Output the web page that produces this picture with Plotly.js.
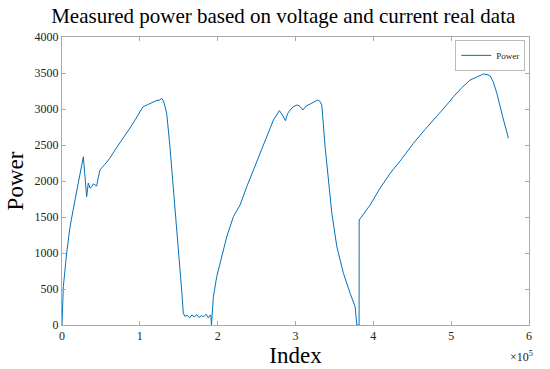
<!DOCTYPE html>
<html>
<head>
<meta charset="utf-8">
<script src="https://cdn.plot.ly/plotly-3.0.1.min.js"></script>
<style>html,body{margin:0;padding:0;background:#fff;}#chart{width:550px;height:369px;}</style>
</head>
<body>
<div id="chart"></div>
<script>
// Index values
const indexValues = [
  0, 1700, 6000, 10300, 16700, 23100, 27400, 31700, 33800, 36000, 38200, 40300, 42400, 44500,
  46500, 48800, 55000, 61700, 68000, 74500, 81000, 87400, 94000, 100300, 104100, 110000, 117000,
  122000, 126000, 128100, 130500, 134500, 138500, 142700, 147000, 151700, 154000, 155900,
  158000, 161000, 164000, 167000, 170000, 173000, 176000, 179000, 182000, 185000, 188000,
  190500, 191300, 192000, 194500, 198800, 205300, 211700, 220200, 228800, 237400, 245900,
  254500, 263100, 271600, 279300, 283000, 287000, 290000, 293100, 297000, 301700, 305500,
  309400, 313500, 318800, 324000, 328700, 331000, 333800, 338000, 342300, 346700, 353100,
  361600, 370200, 376600, 378800, 380500, 381700, 381800, 395900, 408000, 421600, 436000,
  451500, 466000, 481600, 493000, 503000, 514000, 524400, 533000, 541500, 546000, 550100,
  554000, 558700, 566000, 573600
];
// Power values
const powerValues = [
  0, 532, 1000, 1365, 1736, 2111, 2337, 1782, 1972, 1900, 1921, 1960, 1944, 1930,
  2040, 2153, 2230, 2319, 2430, 2527, 2630, 2736, 2850, 2963, 3032, 3060, 3102,
  3120, 3125, 3150, 3110, 2940, 2500, 1972, 1400, 810, 450, 160,
  120, 135, 100, 140, 110, 145, 105, 130, 115, 150, 100,
  140, 120, 0, 393, 671, 949, 1226, 1504, 1667, 1921, 2153,
  2384, 2615, 2847, 2977, 2920, 2838, 2940, 2986, 3030, 3056, 3040,
  2986, 3040, 3069, 3100, 3125, 3110, 3056, 2477, 2014, 1551, 1088,
  718, 440, 254, 0, 0, 0, 1458, 1667, 1890, 2107, 2300,
  2523, 2710, 2893, 3040, 3171, 3300, 3403, 3450, 3486, 3480, 3458,
  3380, 3218, 2900, 2593
];
const seriesName = 'Power';
const xTickVals = [0, 100000, 200000, 300000, 400000, 500000, 600000];
const xTickText = ['0', '1', '2', '3', '4', '5', '6'];
const yTickVals = [0, 500, 1000, 1500, 2000, 2500, 3000, 3500, 4000];

const serif = 'Liberation Serif';

const trace = {
  x: indexValues,
  y: powerValues,
  type: 'scatter',
  mode: 'lines',
  name: seriesName,
  line: {color: '#0072BD', width: 1}
};

const layout = {
  width: 550,
  height: 369,
  margin: {l: 62, r: 21, t: 37, b: 44},
  paper_bgcolor: '#ffffff',
  plot_bgcolor: '#ffffff',
  font: {family: serif, color: '#000'},
  title: {
    text: 'Measured power based on voltage and current real data',
    font: {family: serif, size: 21, color: '#000'},
    x: 0.515, xanchor: 'center', y: 0.978, yanchor: 'top'
  },
  xaxis: {
    range: [0, 600000],
    tickvals: xTickVals,
    ticktext: xTickText,
    ticks: 'inside', ticklen: 4, tickcolor: '#aaaaaa',
    showline: true, linecolor: '#aaaaaa', linewidth: 1, mirror: 'ticks',
    showgrid: false, zeroline: false,
    tickfont: {family: serif, size: 12, color: '#222'},
    title: {text: 'Index', font: {family: serif, size: 23, color: '#000'}, standoff: 4}
  },
  yaxis: {
    range: [0, 4000],
    tickvals: yTickVals,
    ticks: 'inside', ticklen: 4, tickcolor: '#aaaaaa',
    showline: true, linecolor: '#aaaaaa', linewidth: 1, mirror: 'ticks',
    showgrid: false, zeroline: false,
    tickfont: {family: serif, size: 12, color: '#222'},
    title: {text: 'Power', font: {family: serif, size: 23, color: '#000'}, standoff: 4}
  },
  showlegend: true,
  legend: {
    x: 0.992, xanchor: 'right', y: 0.99, yanchor: 'top',
    bordercolor: '#bbbbbb', borderwidth: 1, bgcolor: '#ffffff',
    font: {family: serif, size: 9, color: '#222'},
    itemwidth: 30, tracegroupgap: 0
  },
  annotations: [{
    text: '×10<sup>5</sup>', xref: 'paper', yref: 'paper', x: 1.012, y: -0.075,
    xanchor: 'right', yanchor: 'top', showarrow: false,
    font: {family: serif, size: 12, color: '#222'}
  }]
};

Plotly.newPlot('chart', [trace], layout, {displayModeBar: false, staticPlot: true});
</script>
</body>
</html>
